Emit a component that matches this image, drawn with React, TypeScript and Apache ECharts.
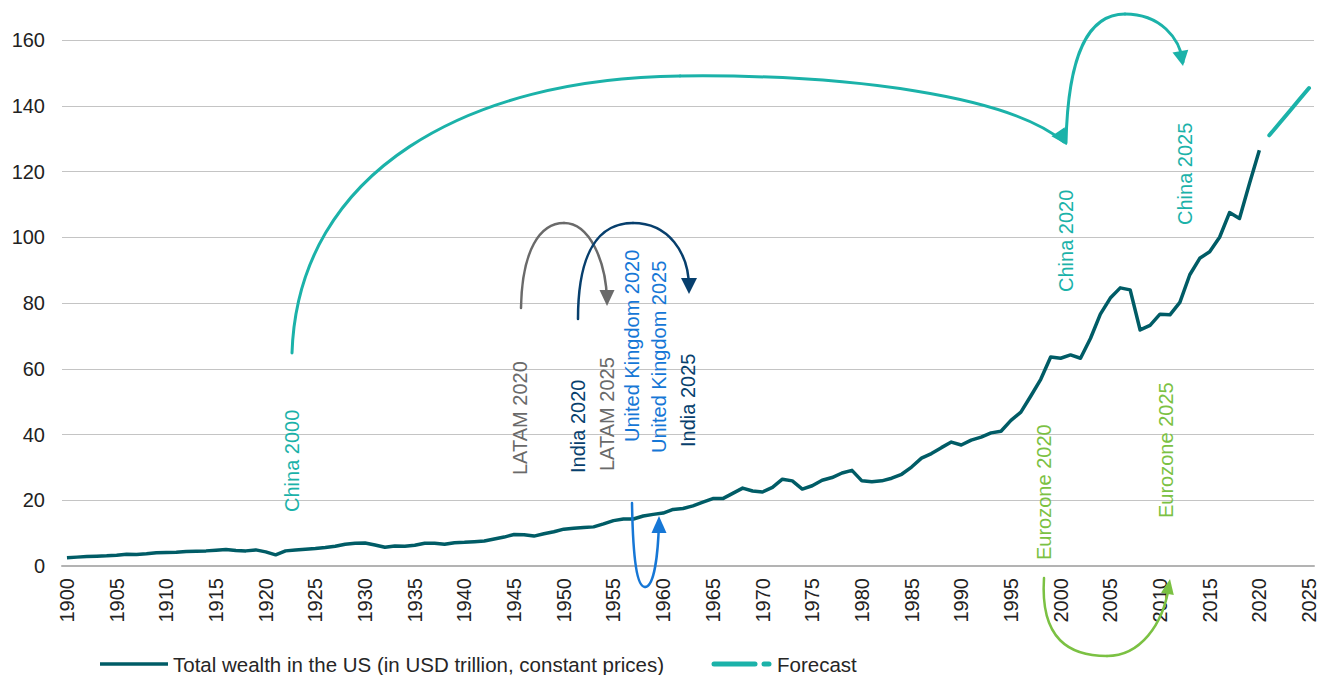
import React, { useEffect, useRef } from "react";
import * as echarts from "echarts";

// ---- data ----
const years: string[] = Array.from({ length: 126 }, (_, i) => String(1900 + i));

// Total wealth in the US, 1900–2020 (USD trillion, constant prices)
const wealth: number[] = [
  2.5, 2.7, 2.9, 3.0, 3.1, 3.3, 3.6, 3.5, 3.7, 4.0,
  4.1, 4.2, 4.4, 4.5, 4.6, 4.8, 5.0, 4.7, 4.6, 4.9,
  4.3, 3.4, 4.6, 4.9, 5.1, 5.3, 5.6, 6.0, 6.6, 6.9,
  7.0, 6.4, 5.7, 6.1, 6.0, 6.3, 6.9, 6.9, 6.6, 7.1,
  7.2, 7.4, 7.6, 8.2, 8.8, 9.6, 9.5, 9.1, 9.8, 10.4,
  11.2, 11.5, 11.7, 11.9, 12.8, 13.8, 14.3, 14.3, 15.2, 15.7,
  16.1, 17.2, 17.5, 18.3, 19.4, 20.5, 20.5, 22.1, 23.7, 22.8,
  22.5, 23.9, 26.4, 25.9, 23.4, 24.4, 26.1, 26.9, 28.3, 29.1,
  25.9, 25.6, 25.9, 26.7, 27.9, 30.1, 32.8, 34.2, 36.0, 37.7,
  36.8, 38.3, 39.2, 40.5, 41.0, 44.3, 46.8, 51.7, 56.8, 63.6,
  63.2, 64.2, 63.2, 69.2, 76.6, 81.5, 84.6, 84.0, 71.8, 73.2,
  76.6, 76.4, 80.2, 88.6, 93.6, 95.6, 100.0, 107.5, 105.7, 116.3,
  126.5,
];

// Forecast 2021–2025
const forecast: number[] = [131.0, 134.6, 138.2, 141.8, 145.4];

const yTicks = { min: 0, max: 160, interval: 20 };

const legendLabels = {
  wealth: "Total wealth in the US (in USD trillion, constant prices)",
  forecast: "Forecast",
};

// ---- styles ----
const C_MAIN = "#005c66";
const C_CHINA = "#1bb2a9";
const C_LATAM = "#6a6a6a";
const C_INDIA = "#073f6d";
const C_UK = "#1677d6";
const C_EURO = "#7bc143";
const FONT = "Liberation Sans, Arial, sans-serif";

type Ann = { text: string; x: number; y: number; color: string };
const annotations: Ann[] = [
  { text: "China 2000", x: 292, y: 512, color: C_CHINA },
  { text: "LATAM 2020", x: 520, y: 475, color: C_LATAM },
  { text: "India 2020", x: 578, y: 473, color: C_INDIA },
  { text: "LATAM 2025", x: 607, y: 471, color: C_LATAM },
  { text: "United Kingdom 2020", x: 632, y: 442, color: C_UK },
  { text: "United Kingdom 2025", x: 659, y: 453, color: C_UK },
  { text: "India 2025", x: 688, y: 447, color: C_INDIA },
  { text: "China 2020", x: 1066, y: 292, color: C_CHINA },
  { text: "China 2025", x: 1185, y: 225, color: C_CHINA },
  { text: "Eurozone 2020", x: 1044, y: 560, color: C_EURO },
  { text: "Eurozone 2025", x: 1166, y: 518, color: C_EURO },
];

type Seg = number[]; // x1,y1,cpx1,cpy1,cpx2,cpy2,x2,y2
type Arrow = {
  color: string;
  width: number;
  segs: Seg[];
  tip: [number, number];
  angle: number; // degrees, direction of arrow travel
  len: number;
  half: number;
};

const arrows: Arrow[] = [
  {
    color: C_CHINA, width: 3,
    segs: [
      [292, 353, 298, 170, 470, 78, 680, 76],
      [680, 76, 850, 74, 1010, 96, 1064, 142],
    ],
    tip: [1067, 145], angle: 56, len: 16, half: 8,
  },
  {
    color: C_CHINA, width: 3,
    segs: [
      [1066, 143, 1068, 50, 1090, 14, 1125, 14],
      [1125, 14, 1160, 14, 1180, 38, 1183, 62],
    ],
    tip: [1183, 66], angle: 80, len: 15, half: 8,
  },
  {
    color: C_LATAM, width: 2.5,
    segs: [
      [521, 308, 522, 250, 540, 223, 564, 223],
      [564, 223, 590, 223, 606, 262, 607, 300],
    ],
    tip: [607, 306], angle: 90, len: 16, half: 7.5,
  },
  {
    color: C_INDIA, width: 2.5,
    segs: [
      [578, 319, 578, 250, 600, 223, 633, 223],
      [633, 223, 668, 223, 689, 252, 689, 288],
    ],
    tip: [689, 294], angle: 90, len: 16, half: 8,
  },
  {
    color: C_UK, width: 2.5,
    segs: [
      [632, 503, 633, 560, 637, 587, 645, 587],
      [645, 587, 654, 587, 658, 556, 659, 522],
    ],
    tip: [659, 516], angle: -90, len: 17, half: 7.5,
  },
  {
    color: C_EURO, width: 2.5,
    segs: [
      [1044, 578, 1040, 640, 1070, 656, 1107, 656],
      [1107, 656, 1140, 656, 1163, 625, 1169, 586],
    ],
    tip: [1170, 579], angle: -80, len: 15, half: 6.5,
  },
];

function buildArrow(a: Arrow): any[] {
  const els: any[] = a.segs.map((s) => ({
    type: "bezierCurve",
    silent: true,
    z: 20,
    shape: { x1: s[0], y1: s[1], cpx1: s[2], cpy1: s[3], cpx2: s[4], cpy2: s[5], x2: s[6], y2: s[7] },
    style: { stroke: a.color, lineWidth: a.width, fill: "none", lineCap: "round" },
  }));
  const r = (a.angle * Math.PI) / 180;
  const dx = Math.cos(r), dy = Math.sin(r);
  const bx = a.tip[0] - dx * a.len, by = a.tip[1] - dy * a.len;
  const px = -dy, py = dx;
  els.push({
    type: "polygon",
    silent: true,
    z: 21,
    shape: {
      points: [
        [a.tip[0], a.tip[1]],
        [bx + px * a.half, by + py * a.half],
        [bx - px * a.half, by - py * a.half],
      ],
    },
    style: { fill: a.color },
  });
  return els;
}

function buildAnnotations(): any[] {
  return annotations.map((a) => ({
    type: "text",
    silent: true,
    z: 15,
    x: a.x,
    y: a.y,
    rotation: Math.PI / 2,
    style: {
      text: a.text,
      fill: a.color,
      font: `20px ${FONT}`,
      textAlign: "left",
      textVerticalAlign: "middle",
      align: "left",
      verticalAlign: "middle",
    },
  }));
}

function buildLegend(): any[] {
  const ly = 664;
  const txt = (x: number, text: string) => ({
    type: "text",
    silent: true,
    x,
    y: ly,
    style: {
      text,
      fill: "#262626",
      font: `20.5px ${FONT}`,
      textAlign: "left",
      textVerticalAlign: "middle",
      align: "left",
      verticalAlign: "middle",
    },
  });
  return [
    { type: "line", silent: true, shape: { x1: 100, y1: ly, x2: 168, y2: ly }, style: { stroke: C_MAIN, lineWidth: 3.5 } },
    txt(173, legendLabels.wealth),
    { type: "line", silent: true, shape: { x1: 714, y1: ly, x2: 755, y2: ly }, style: { stroke: C_CHINA, lineWidth: 5, lineCap: "round" } },
    { type: "line", silent: true, shape: { x1: 764, y1: ly, x2: 769, y2: ly }, style: { stroke: C_CHINA, lineWidth: 5, lineCap: "round" } },
    txt(777, legendLabels.forecast),
  ];
}

export default function App() {
  const ref = useRef<HTMLDivElement>(null);

  useEffect(() => {
    if (!ref.current) return;
    const chart = echarts.init(ref.current, undefined, { renderer: "svg" });

    const n = years.length;
    const mainData = years.map((_, i) => (i < wealth.length ? wealth[i] : null));
    const fcStart = n - forecast.length;
    const fcData = years.map((_, i) => (i >= fcStart ? forecast[i - fcStart] : null));

    chart.setOption({
      animation: false,
      backgroundColor: "#ffffff",
      textStyle: { fontFamily: FONT },
      grid: { left: 62, right: 8, top: 40, bottom: 109, containLabel: false },
      xAxis: {
        type: "category",
        data: years,
        boundaryGap: true,
        axisLine: { show: true, lineStyle: { color: "#b3b3b3", width: 2 } },
        axisTick: { show: false },
        axisLabel: {
          rotate: 90,
          interval: 4,
          fontSize: 20,
          color: "#222222",
          margin: 12,
          fontFamily: FONT,
        },
        splitLine: { show: false },
      },
      yAxis: {
        type: "value",
        min: yTicks.min,
        max: yTicks.max,
        interval: yTicks.interval,
        axisLine: { show: false },
        axisTick: { show: false },
        axisLabel: { fontSize: 20, color: "#222222", margin: 17, fontFamily: FONT },
        splitLine: { lineStyle: { color: "#c4c4c4", width: 1 } },
      },
      series: [
        {
          name: legendLabels.wealth,
          type: "line",
          data: mainData,
          showSymbol: false,
          symbol: "none",
          lineStyle: { color: C_MAIN, width: 3.5, join: "round" },
          z: 5,
        },
        {
          name: legendLabels.forecast,
          type: "line",
          data: fcData,
          showSymbol: false,
          symbol: "none",
          lineStyle: { color: C_CHINA, width: 4, cap: "round" },
          z: 5,
        },
      ],
      graphic: [
        ...buildAnnotations(),
        ...arrows.flatMap(buildArrow),
        ...buildLegend(),
      ],
    });

    return () => chart.dispose();
  }, []);

  return (
    <div
      ref={ref}
      style={{ position: "fixed", left: 0, top: 0, width: 1322, height: 675, background: "#fff" }}
    />
  );
}
